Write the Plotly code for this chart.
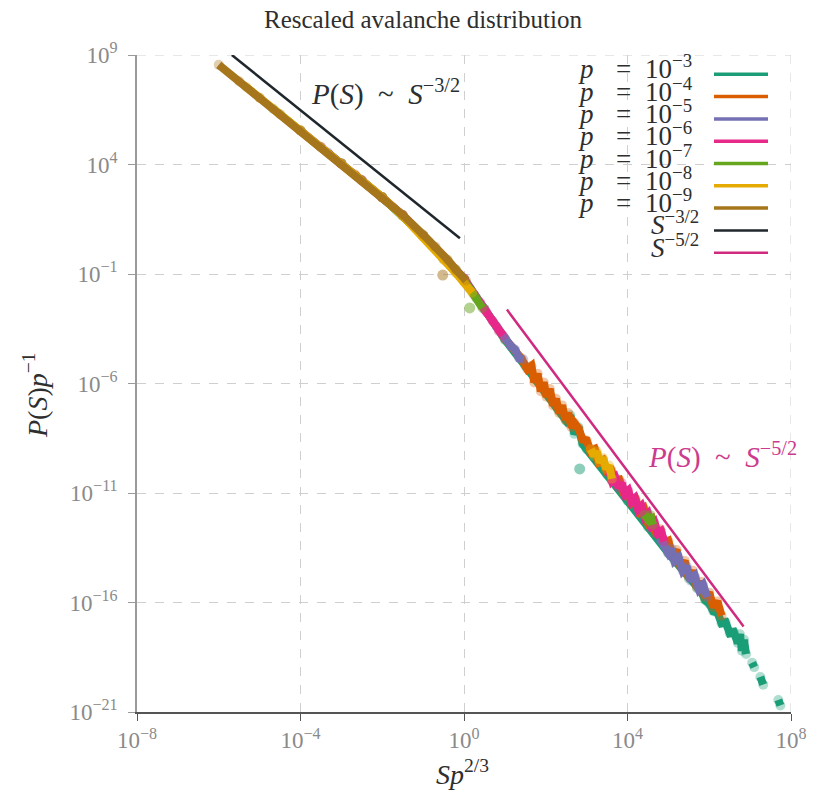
import plotly.graph_objects as go

# ---- data (log10 of rescaled size S*p^(2/3) and of P(S)/p) ----
p_exponents = [-3, -4, -5, -6, -7, -8, -9]
series_colors = ["#1b9e77", "#d95f02", "#7570b3", "#e7298a", "#66a61e", "#e6ab02", "#a6761d"]

logx_p3 = [-2.0, -1.5, -1.0, -0.5, 0.0, 0.5, 1.0, 1.5, 2.0, 2.3, 2.5, 2.6, 2.7, 2.8, 2.9, 3.0,
           3.5, 4.0, 4.5, 5.0, 5.5, 5.7, 5.8, 5.9, 6.0, 6.1, 6.2, 6.3, 6.4, 6.5, 6.6, 6.7,
           6.75, 6.8, 6.85, 6.9, None, 7.05, 7.1, None, 7.25, 7.32, None, 7.69, 7.74]
logy_p3 = [2.5, 1.68, 0.75, -0.3, -1.25, -2.6, -4.0, -5.2, -6.45, -7.2, -7.7, -7.45, -8.3, -8.0,
           -8.75, -9.0, -10.15, -11.35, -12.55, -13.75, -14.9, -15.35, -15.5, -15.9, -16.05,
           -16.4, -16.45, -16.95, -16.9, -17.4, -17.35, -17.85, -17.45, -18.2, -17.7, -18.35,
           None, -18.75, -18.95, None, -19.4, -19.75, None, -20.45, -20.7]

logx_p4 = [-2.67, -2.0, -1.5, -1.0, -0.5, 0.0, 0.5, 1.0, 1.4, 1.55, 1.65, 1.72, 1.8, 1.88, 1.95,
           2.02, 2.1, 2.18, 2.25, 2.33, 2.4, 2.48, 2.55, 2.63, 2.7, 2.8, 2.9, 3.0, 3.1, 3.2, 3.3,
           3.4, 3.5, 3.6, 3.7, 3.8, 3.9, 4.0, 4.1, 4.2, 4.3, 4.4, 4.5, 4.6, 4.7, 4.8, 4.9, 5.0,
           5.1, 5.2, 5.3, 5.4, 5.5, 5.6, 5.7, 5.8, 5.9, 6.0, 6.1, 6.2, 6.3]
logy_p4 = [3.55, 2.5, 1.68, 0.75, -0.28, -1.25, -2.6, -3.95, -4.85, -5.35, -5.2, -5.95, -5.55,
           -6.35, -5.95, -6.6, -6.25, -7.0, -6.7, -7.35, -7.0, -7.65, -7.35, -8.0, -7.8, -8.05,
           -8.55, -8.6, -9.1, -9.0, -9.6, -9.5, -10.0, -9.95, -10.45, -10.4, -10.95, -10.9,
           -11.45, -11.3, -11.85, -11.7, -12.35, -12.2, -12.85, -12.65, -13.3, -13.2, -13.85,
           -13.6, -14.35, -14.1, -14.85, -14.55, -15.3, -15.05, -15.75, -15.55, -16.2, -15.95,
           -16.6]

logx_p5 = [-3.33, -3.0, -2.5, -2.0, -1.5, -1.0, -0.5, 0.0, 0.5, 0.8, 1.0, 1.15, 1.25, 1.35, 1.45,
           None, 4.8, 4.9, 5.0, 5.08, 5.15, 5.25, 5.35, 5.45, 5.55, 5.65, 5.75, 5.85, 5.95]
logy_p5 = [4.55, 4.05, 3.28, 2.5, 1.68, 0.75, -0.25, -1.2, -2.6, -3.4, -3.95, -4.3, -4.45, -4.85,
           -4.9, None, -13.1, -13.35, -13.75, -13.55, -14.1, -13.95, -14.55, -14.35, -15.0,
           -14.8, -15.4, -15.2, -15.75]

logx_p6 = [-4.0, -3.5, -3.0, -2.5, -2.0, -1.5, -1.0, -0.5, 0.0, 0.25, 0.4, 0.55, 0.7, 0.85, 0.95,
           None, 3.55, 3.62, 3.7, 3.78, 3.86, 3.94, 4.02, 4.1, 4.18, 4.26, 4.34, 4.42, 4.5,
           4.58, 4.66, 4.74, 4.82, 4.9]
logy_p6 = [5.55, 4.8, 4.05, 3.28, 2.5, 1.68, 0.75, -0.25, -1.2, -1.95, -2.3, -2.75, -3.15, -3.6,
           -3.8, None, -10.0, -10.45, -10.3, -10.75, -10.55, -11.05, -10.9, -11.4, -11.25,
           -11.75, -11.6, -12.1, -11.95, -12.5, -12.35, -12.85, -12.75, -13.2]

logx_p7 = [-4.67, -4.0, -3.0, -2.0, -1.0, -0.5, -0.2, 0.0, 0.15, 0.3, 0.45,
           None, 4.42, 4.5, 4.56, 4.62]
logy_p7 = [6.55, 5.55, 4.05, 2.5, 0.75, -0.25, -0.8, -1.3, -1.7, -2.1, -2.55,
           None, -12.0, -12.2, -12.0, -12.45]

logx_p8 = [-5.33, -5.0, -4.0, -3.0, -2.0, -1.5, -1.0, -0.5, -0.2, 0.0, 0.2,
           None, 3.1, 3.18, 3.25, 3.32, 3.4, 3.48, 3.55, 3.62]
logy_p8 = [7.55, 7.05, 5.55, 4.05, 2.5, 1.65, 0.7, -0.35, -0.95, -1.35, -1.85,
           None, -9.0, -9.3, -9.1, -9.6, -9.4, -9.9, -9.75, -10.35]

logx_p9 = [-6.0, -5.5, -5.0, -4.5, -4.0, -3.5, -3.0, -2.5, -2.0, -1.5, -1.0, -0.7, -0.4, -0.2, 0.05]
logy_p9 = [8.55, 7.8, 7.05, 6.3, 5.55, 4.8, 4.05, 3.28, 2.5, 1.7, 0.8, 0.25, -0.35, -0.8, -1.3]

# isolated points lying off the main curve: (series index, log10 x, log10 y)
stray_series = [6, 4, 0]
stray_logx = [-0.52, 0.14, 2.83]
stray_logy = [-1.05, -2.55, -9.9]

# power-law guides: amplitude, exponent and log10 x extent
guide_labels = ["<i>S</i><sup>−3/2</sup>", "<i>S</i><sup>−5/2</sup>"]
guide_amp_log = [0.48, 0.0]
guide_exponent = [-1.5, -2.5]
guide_logx_range = [[-5.68, -0.1], [1.05, 6.84]]
guide_colors = ["#1f272d", "#cf2a80"]

x_tick_exps = [-8, -4, 0, 4, 8]
y_tick_exps = [9, 4, -1, -6, -11, -16, -21]

logx_all = [logx_p3, logx_p4, logx_p5, logx_p6, logx_p7, logx_p8, logx_p9]
logy_all = [logy_p3, logy_p4, logy_p5, logy_p6, logy_p7, logy_p8, logy_p9]


def pow10(vals):
    return [None if v is None else 10 ** v for v in vals]


def sup(e):
    return "10<sup>" + str(e).replace("-", "−") + "</sup>"


SERIF = "Liberation Serif, Times New Roman, serif"
TEXT = "#2e2e2e"
TICK = "#8a8a8a"
SP = "\u00a0"

fig = go.Figure()

for lx, ly, col in zip(logx_all, logy_all, series_colors):
    fig.add_trace(go.Scatter(
        x=pow10(lx), y=pow10(ly), mode="lines+markers", connectgaps=False,
        line=dict(color=col, width=8),
        marker=dict(color=col, size=10, opacity=0.35),
        showlegend=False, hoverinfo="skip"))

for si, sx, sy in zip(stray_series, stray_logx, stray_logy):
    fig.add_trace(go.Scatter(
        x=[10 ** sx], y=[10 ** sy], mode="markers",
        marker=dict(color=series_colors[si], size=11, opacity=0.5),
        showlegend=False, hoverinfo="skip"))

for amp, ex, (a, b), col in zip(guide_amp_log, guide_exponent, guide_logx_range, guide_colors):
    xs = [10 ** a, 10 ** b]
    ys = [10 ** amp * v ** ex for v in xs]
    fig.add_trace(go.Scatter(x=xs, y=ys, mode="lines", line=dict(color=col, width=2.5),
                             showlegend=False, hoverinfo="skip"))

# ---- plot geometry (pixels) ----
W, H = 821, 793
L, R, T, B = 137, 30, 55, 81
PW, PH = W - L - R, H - T - B


def px(xp):
    return (xp - L) / PW


def py(yp):
    return (H - B - yp) / PH


def note(x, y, text, size, color, xanchor="center", yanchor="middle", **kw):
    return dict(x=px(x), y=py(y), xref="paper", yref="paper", showarrow=False,
                xanchor=xanchor, yanchor=yanchor, text=text,
                font=dict(family=SERIF, size=size, color=color), **kw)


annotations = []

# curve labels
annotations.append(note(385, 92, "<i>P</i>(<i>S</i>)" + SP * 2 + "~" + SP * 2 +
                        "<i>S</i><sup>−3/2</sup>", 29, "#2a2f33"))
annotations.append(note(722, 455, "<i>P</i>(<i>S</i>)" + SP * 2 + "~" + SP * 2 +
                        "<i>S</i><sup>−5/2</sup>", 29, "#cc3b8d"))

# legend drawn as text + line samples
row0, row_step = 74.3, 22.3
shapes = []
for i, (e, c) in enumerate(zip(p_exponents, series_colors)):
    yc = row0 + i * row_step
    annotations.append(note(586, yc + 12, "<i>p</i>", 27, TEXT, yanchor="bottom"))
    annotations.append(note(623, yc + 12, "=", 27, TEXT, yanchor="bottom"))
    annotations.append(note(643, yc + 12, sup(e), 27, TEXT, xanchor="left", yanchor="bottom"))
    shapes.append(dict(type="line", xref="paper", yref="paper", x0=px(714), x1=px(768),
                       y0=py(yc), y1=py(yc), line=dict(color=c, width=3.5)))
for j, (lab, col) in enumerate(zip(guide_labels, guide_colors)):
    yc = row0 + (len(p_exponents) + j) * row_step
    annotations.append(note(701, yc + 12, lab, 27, TEXT, xanchor="right", yanchor="bottom"))
    shapes.append(dict(type="line", xref="paper", yref="paper", x0=px(714), x1=px(768),
                       y0=py(yc), y1=py(yc), line=dict(color=col, width=2.5)))

# dashed grid lines along the top and right edges of the axes box
for e in [y_tick_exps[0]]:
    shapes.append(dict(type="line", xref="paper", yref="y", x0=0, x1=1, y0=10 ** e, y1=10 ** e,
                       line=dict(color="#cfcfcf", width=1, dash="dash"), layer="below"))
for e in [x_tick_exps[-1]]:
    shapes.append(dict(type="line", xref="x", yref="paper", x0=10 ** e, x1=10 ** e, y0=0, y1=1,
                       line=dict(color="#cfcfcf", width=1, dash="dash"), layer="below"))

# axis titles
annotations.append(note(462, 772, "<i>Sp</i><sup>2/3</sup>", 28, TEXT))
annotations.append(note(35, 395, "<i>P</i>(<i>S</i>)<i>p</i><sup>−1</sup>", 28, TEXT,
                        textangle=-90))

axis_common = dict(
    type="log", showgrid=True, gridcolor="#cfcfcf", gridwidth=1, griddash="dash",
    zeroline=False, showline=True, ticks="outside", ticklen=7, tickwidth=1,
    tickfont=dict(family=SERIF, size=23, color=TICK), mirror=False)

fig.update_layout(
    width=W, height=H,
    margin=dict(l=L, r=R, t=T, b=B),
    paper_bgcolor="white", plot_bgcolor="white",
    title=dict(text="Rescaled avalanche distribution", x=423 / W, xanchor="center",
               y=1 - 19 / H, yanchor="middle", xref="container", yref="container",
               font=dict(family=SERIF, size=25, color=TEXT)),
    xaxis=dict(axis_common, range=[-8, 8],
               tickvals=[10 ** e for e in x_tick_exps], ticktext=[sup(e) for e in x_tick_exps],
               linecolor="#555555", tickcolor="#555555", linewidth=1.5),
    yaxis=dict(axis_common, range=[-21, 9], ticklabelstandoff=6,
               tickvals=[10 ** e for e in y_tick_exps], ticktext=[sup(e) for e in y_tick_exps],
               linecolor="#9a9a9a", tickcolor="#9a9a9a", linewidth=1.5),
    annotations=annotations, shapes=shapes,
)

fig.write_html("out.html")
